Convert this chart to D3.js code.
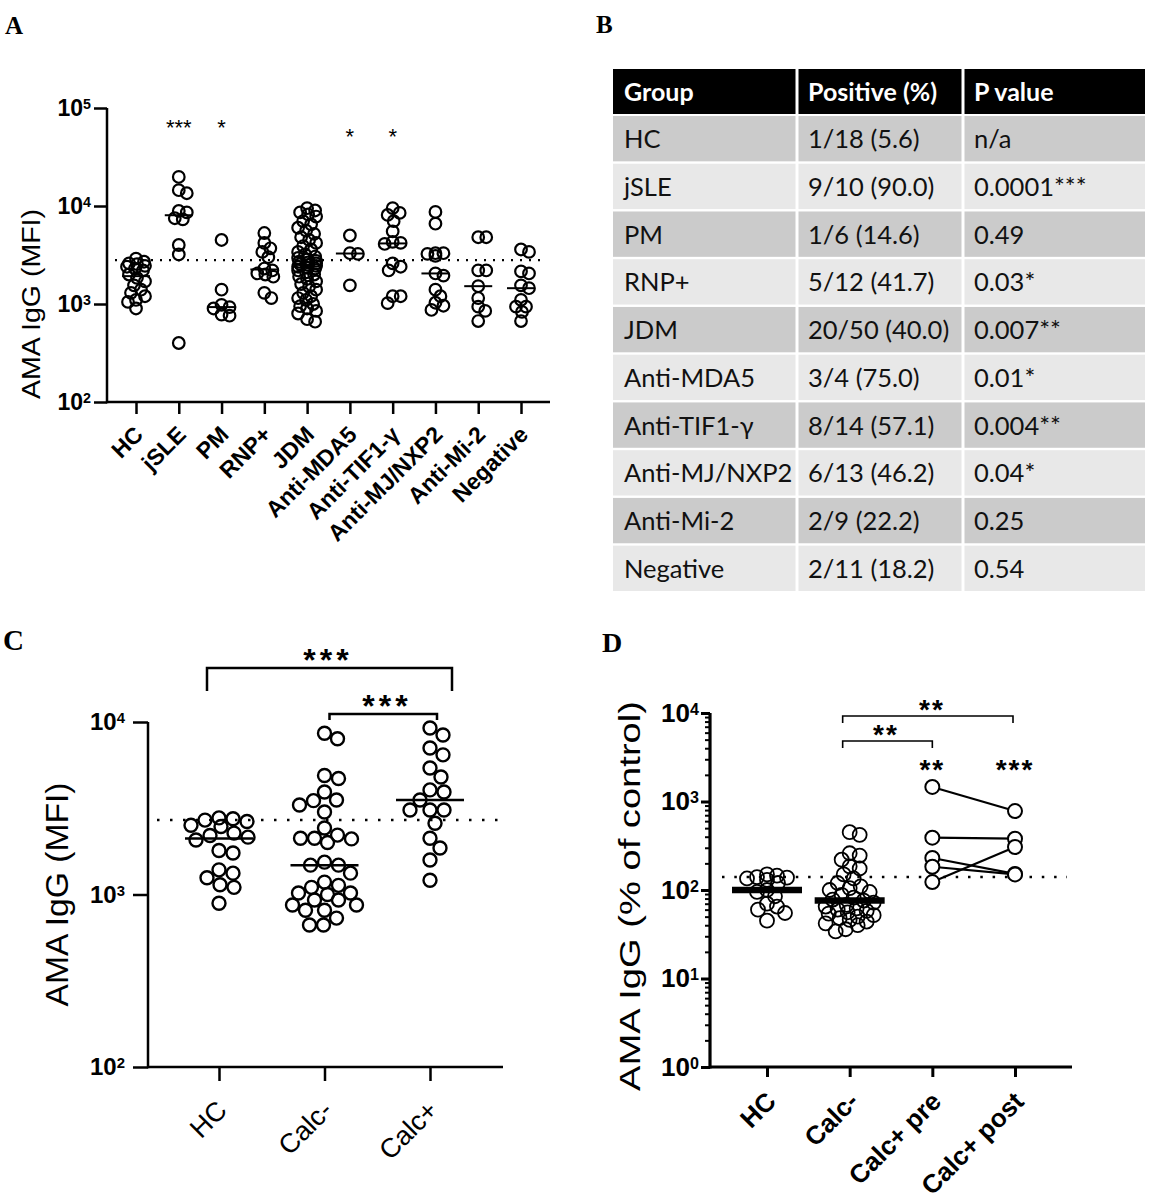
<!DOCTYPE html>
<html>
<head>
<meta charset="utf-8">
<script src="https://cdn.jsdelivr.net/npm/d3@7"></script>
<style>
  body { margin: 0; background: #fff; }
  svg { display: block; }
</style>
</head>
<body>
<svg id="fig" width="1152" height="1200"></svg>
<script>
// ---- panel A data (MFI) ----
const groupsA = ["HC", "jSLE", "PM", "RNP+", "JDM", "Anti-MDA5", "Anti-TIF1-γ", "Anti-MJ/NXP2", "Anti-Mi-2", "Negative"];
const hcA = [2900, 2700, 2600, 2550, 2450, 2400, 2300, 2200, 2000, 1850, 1700, 1550, 1400, 1300, 1200, 1100, 1050, 900];
const jsleA = [19800, 14500, 13500, 8900, 8600, 7500, 7300, 4000, 3200, 400];
const pmA = [4500, 1400, 980, 930, 900, 780, 760];
const rnpA = [5300, 4200, 3700, 3400, 3000, 2300, 2200, 2050, 2000, 1900, 1300, 1150];
const jdmA = [9500, 9000, 8600, 8200, 7800, 7000, 6500, 6000, 5600, 5200, 4800, 4500, 4200, 3900, 3600, 3400, 3200, 3050, 2950, 2850,
  2750, 2700, 2650, 2600, 2550, 2500, 2450, 2400, 2350, 2300, 2200, 2100, 2000, 1900, 1800, 1700, 1600, 1500, 1400, 1300,
  1200, 1150, 1100, 1000, 950, 900, 850, 800, 700, 660];
const mda5A = [5000, 3300, 3250, 1550];
const tif1A = [9500, 8500, 8100, 7000, 5500, 4300, 4200, 4100, 2600, 2400, 2200, 1200, 1200, 1020];
const mjA = [8700, 6600, 3300, 3300, 3250, 3100, 2050, 1950, 1400, 1200, 1030, 960, 870];
const mi2A = [4800, 4800, 2200, 2200, 1520, 1150, 940, 850, 670];
const negA = [3600, 3400, 2150, 2050, 1550, 1450, 1100, 940, 940, 830, 670];
const valuesA = [hcA, jsleA, pmA, rnpA, jdmA, mda5A, tif1A, mjA, mi2A, negA];
const starsA = ["", "***", "*", "", "", "*", "*", "", "", ""];
const cutoffA = 2810;

// ---- panel B table ----
const tableHeader = ["Group", "Positive (%)", "P value"];
const tableGroups = ["HC", "jSLE", "PM", "RNP+", "JDM", "Anti-MDA5", "Anti-TIF1-γ", "Anti-MJ/NXP2", "Anti-Mi-2", "Negative"];
const tablePositive = ["1/18 (5.6)", "9/10 (90.0)", "1/6 (14.6)", "5/12 (41.7)", "20/50 (40.0)", "3/4 (75.0)", "8/14 (57.1)", "6/13 (46.2)", "2/9 (22.2)", "2/11 (18.2)"];
const tablePValue = ["n/a", "0.0001***", "0.49", "0.03*", "0.007**", "0.01*", "0.004**", "0.04*", "0.25", "0.54"];

// ---- panel C data (MFI) ----
const groupsC = ["HC", "Calc-", "Calc+"];
const hcC = [2780, 2750, 2700, 2650, 2520, 2480, 2270, 2200, 2150, 2070, 1800, 1740, 1390, 1330, 1250, 1140, 1100, 890];
const calcNegC = [8600, 8000, 4900, 4700, 3930, 3530, 3500, 3300, 3010, 2430, 2210, 2120, 2120, 2100, 2000, 1540, 1480, 1480,
  1330, 1180, 1130, 1100, 1020, 1020, 1000, 930, 930, 870, 870, 810, 810, 730, 665, 665];
const calcPosC = [9230, 5410, 3930, 3090, 1860, 8410, 6450, 4040, 3530, 3090, 2590, 7070, 4800, 3090, 2120, 1585, 1210];
const valuesC = [hcC, calcNegC, calcPosC];
const cutoffC = 2700;

// ---- panel D data (% of control) ----
const groupsD = ["HC", "Calc-", "Calc+ pre", "Calc+ post"];
const hcD = [150, 145, 140, 138, 135, 130, 120, 100, 95, 85, 70, 65, 60, 55, 45];
const calcNegD = [450, 420, 260, 245, 220, 185, 175, 150, 135, 120, 110, 105, 100, 95, 88, 82, 78, 76, 72, 68, 65, 62,
  60, 58, 56, 54, 52, 50, 48, 46, 44, 42, 40, 36, 34];
const calcPre = [1460, 390, 230, 183, 123];
const calcPost = [780, 380, 152, 150, 306];
const cutoffD = 140;

const font = "'Liberation Sans', Arial, sans-serif";
const svg = d3.select("#fig").style("font-family", font);

// simple beeswarm: place points top-down, nearest free offset to the centre
function swarm(vals, y, cx, diam, maxW) {
  const pts = vals.map(v => ({ v, y: y(v) })).sort((a, b) => a.y - b.y);
  const placed = [];
  pts.forEach(p => {
    let best = 0, bestCost = Infinity;
    for (let k = 0; k <= maxW * 2; k++) {
      const off = (k % 2 ? 1 : -1) * Math.ceil(k / 2);
      if (Math.abs(off) > maxW) break;
      let cost = 0;
      placed.forEach(q => {
        const d = Math.hypot(q.x - (cx + off), q.y - p.y);
        if (d < diam) cost += diam - d;
      });
      if (cost === 0) { best = off; bestCost = 0; break; }
      if (cost + Math.abs(off) * 0.05 < bestCost) { bestCost = cost + Math.abs(off) * 0.05; best = off; }
    }
    p.x = cx + best;
    placed.push(p);
  });
  return placed;
}

function logLabels(g, supSize) {
  g.selectAll(".tick text").each(function (d) {
    const t = d3.select(this);
    t.text("10");
    t.append("tspan").attr("font-size", supSize).attr("dy", "-0.45em").text(Math.round(Math.log10(d)));
  });
}

function panelLetter(x, y, s, txt) {
  svg.append("text").attr("x", x).attr("y", y).attr("font-family", "'Liberation Serif', 'Times New Roman', serif")
    .attr("font-weight", "bold").attr("font-size", s).text(txt);
}

// ================= Panel A =================
{
  const g = svg.append("g");
  const y = d3.scaleLog().domain([100, 1e5]).range([402, 108]);
  const x = d3.scalePoint().domain(groupsA).range([136, 521]);

  const ya = g.append("g").attr("transform", "translate(107,0)")
    .call(d3.axisLeft(y).tickValues([1e2, 1e3, 1e4, 1e5]).tickSize(13).tickPadding(3).tickSizeOuter(0));
  ya.select(".domain").remove();
  ya.selectAll("line").attr("stroke-width", 2.5);
  ya.selectAll("text").attr("font-size", 23).attr("font-weight", "bold").attr("font-family", font);
  logLabels(ya, "62%");

  const xa = g.append("g").attr("transform", "translate(0,402)")
    .call(d3.axisBottom(x).tickSize(12).tickSizeOuter(0));
  xa.select(".domain").remove();
  xa.selectAll("line").attr("stroke-width", 2.5);
  xa.selectAll("text").attr("font-size", 23).attr("font-weight", "bold").attr("font-family", font)
    .attr("x", 0).attr("y", 0).attr("dy", 0).attr("text-anchor", "end")
    .attr("transform", "translate(8,34) rotate(-45)");

  g.append("line").attr("x1", 107).attr("x2", 107).attr("y1", y(1e5)).attr("y2", y(100) + 1.2)
    .attr("stroke", "#000").attr("stroke-width", 2.5);
  g.append("line").attr("x1", 107).attr("x2", 550).attr("y1", y(100)).attr("y2", y(100))
    .attr("stroke", "#000").attr("stroke-width", 2.5);

  g.append("line").attr("x1", 115).attr("x2", 543).attr("y1", y(cutoffA)).attr("y2", y(cutoffA))
    .attr("stroke", "#000").attr("stroke-width", 2.2).attr("stroke-dasharray", "2,7");

  valuesA.forEach((vals, i) => {
    const cx = x(groupsA[i]);
    const pts = swarm(vals, y, cx, 8, 9);
    g.append("g").selectAll("circle").data(pts).join("circle")
      .attr("cx", d => d.x).attr("cy", d => d.y).attr("r", 5.8)
      .attr("fill", "none").attr("stroke", "#000").attr("stroke-width", 2.2);
    const m = d3.median(vals);
    g.append("line").attr("x1", cx - 14).attr("x2", cx + 14).attr("y1", y(m)).attr("y2", y(m))
      .attr("stroke", "#000").attr("stroke-width", 2);
    if (starsA[i]) {
      g.append("text").attr("x", cx).attr("y", i >= 5 ? 144 : 135).attr("text-anchor", "middle")
        .attr("font-size", 22).text(starsA[i]);
    }
  });

  g.append("text").attr("transform", `translate(40,${y(Math.sqrt(1e2 * 1e5 / 10))}) rotate(-90)`)
    .attr("text-anchor", "middle").attr("font-size", 26).attr("textLength", 190).attr("lengthAdjust", "spacingAndGlyphs")
    .text("AMA IgG (MFI)");
  panelLetter(5, 34, 25, "A");
}

// ================= Panel B (table) =================
{
  const g = svg.append("g");
  const cols = [613, 797, 963, 1145];
  const rows = d3.scaleBand().domain(tableGroups).range([116, 591]).paddingInner(0.05).paddingOuter(0);
  const tf = "Lato, 'Open Sans', sans-serif";

  tableHeader.forEach((h, c) => {
    g.append("rect").attr("x", cols[c] + (c ? 1.5 : 0)).attr("y", 69).attr("width", cols[c + 1] - cols[c] - (c ? 1.5 : 0) - (c < 2 ? 1.5 : 0))
      .attr("height", 45).attr("fill", "#000");
    g.append("text").attr("x", cols[c] + 11).attr("y", 101).attr("fill", "#fff").attr("font-family", tf)
      .attr("font-weight", "bold").attr("font-size", 25).text(h);
  });

  const cellTexts = [tableGroups, tablePositive, tablePValue];
  tableGroups.forEach((grp, r) => {
    const fill = r % 2 === 0 ? "#cbcbcb" : "#e8e8e8";
    for (let c = 0; c < 3; c++) {
      g.append("rect").attr("x", cols[c] + (c ? 1.5 : 0)).attr("y", rows(grp))
        .attr("width", cols[c + 1] - cols[c] - (c ? 1.5 : 0) - (c < 2 ? 1.5 : 0))
        .attr("height", rows.bandwidth()).attr("fill", fill);
      g.append("text").attr("x", cols[c] + 11).attr("y", rows(grp) + rows.bandwidth() / 2 + 9.5)
        .attr("font-family", tf).attr("font-size", 25.5).attr("fill", "#111").text(cellTexts[c][r]);
    }
  });
  panelLetter(596, 33, 25, "B");
}

// ================= Panel C =================
{
  const g = svg.append("g");
  const y = d3.scaleLog().domain([100, 1e4]).range([1067, 722]);
  const x = d3.scalePoint().domain(groupsC).range([219, 430]);

  const ya = g.append("g").attr("transform", "translate(148,0)")
    .call(d3.axisLeft(y).tickValues([1e2, 1e3, 1e4]).tickSize(15).tickPadding(8).tickSizeOuter(0));
  ya.select(".domain").remove();
  ya.selectAll("line").attr("stroke-width", 2.5);
  ya.selectAll("text").attr("font-size", 24).attr("font-weight", "bold").attr("font-family", font);
  logLabels(ya, "62%");

  const xa = g.append("g").attr("transform", "translate(0,1067)")
    .call(d3.axisBottom(x).tickSize(14).tickSizeOuter(0));
  xa.select(".domain").remove();
  xa.selectAll("line").attr("stroke-width", 2.5);
  xa.selectAll("text").attr("font-size", 27).attr("font-family", font)
    .attr("x", 0).attr("y", 0).attr("dy", 0).attr("text-anchor", "end")
    .attr("transform", "translate(9,45) rotate(-45)");

  g.append("line").attr("x1", 148).attr("x2", 148).attr("y1", y(1e4)).attr("y2", y(100) + 1.2)
    .attr("stroke", "#000").attr("stroke-width", 2.5);
  g.append("line").attr("x1", 148).attr("x2", 503).attr("y1", y(100)).attr("y2", y(100))
    .attr("stroke", "#000").attr("stroke-width", 2.5);

  g.append("line").attr("x1", 157).attr("x2", 503).attr("y1", y(cutoffC)).attr("y2", y(cutoffC))
    .attr("stroke", "#000").attr("stroke-width", 2.5).attr("stroke-dasharray", "2.5,10.5");

  valuesC.forEach((vals, i) => {
    const cx = x(groupsC[i]);
    const pts = swarm(vals, y, cx, 14, 32);
    g.append("g").selectAll("circle").data(pts).join("circle")
      .attr("cx", d => d.x).attr("cy", d => d.y).attr("r", 6.5)
      .attr("fill", "none").attr("stroke", "#000").attr("stroke-width", 2.4);
    const m = d3.median(vals);
    g.append("line").attr("x1", cx - 34).attr("x2", cx + 34).attr("y1", y(m)).attr("y2", y(m))
      .attr("stroke", "#000").attr("stroke-width", 2.5);
  });

  // comparison brackets
  const top = y(1e4);
  const br = [
    { x1: x("HC") - 12, x2: x("Calc+") + 22, yb: top - 54, leg: 23, sx: 328, label: "***" },
    { x1: x("Calc-") + 5, x2: x("Calc+") + 7, yb: top - 8, leg: 6, sx: 387, label: "***" }
  ];
  br.forEach(b => {
    g.append("path").attr("d", `M${b.x1},${b.yb + b.leg}V${b.yb}H${b.x2}V${b.yb + b.leg}`)
      .attr("fill", "none").attr("stroke", "#000").attr("stroke-width", 2.5);
    g.append("text").attr("x", b.sx).attr("y", b.yb + 3).attr("text-anchor", "middle")
      .attr("font-size", 32).attr("font-weight", "bold").attr("letter-spacing", 4).text(b.label);
  });

  g.append("text").attr("transform", `translate(68,${y(1000)}) rotate(-90)`)
    .attr("text-anchor", "middle").attr("font-size", 31).attr("textLength", 224).attr("lengthAdjust", "spacingAndGlyphs")
    .text("AMA IgG (MFI)");
  panelLetter(3, 650, 29, "C");
}

// ================= Panel D =================
{
  const g = svg.append("g");
  const y = d3.scaleLog().domain([1, 1e4]).range([1067, 713]);
  const x = d3.scalePoint().domain(groupsD).range([767, 1015]);

  const minor = [];
  for (let e = 0; e < 4; e++) for (let k = 2; k <= 9; k++) minor.push(k * Math.pow(10, e));
  const ym = g.append("g").attr("transform", "translate(710,0)")
    .call(d3.axisLeft(y).tickValues(minor).tickSize(5).tickFormat("").tickSizeOuter(0));
  ym.select(".domain").remove();
  ym.selectAll("line").attr("stroke-width", 2);

  const ya = g.append("g").attr("transform", "translate(710,0)")
    .call(d3.axisLeft(y).tickValues([1, 10, 100, 1e3, 1e4]).tickSize(9).tickPadding(2).tickSizeOuter(0));
  ya.select(".domain").remove();
  ya.selectAll("line").attr("stroke-width", 3);
  ya.selectAll("text").attr("font-size", 26).attr("font-weight", "bold").attr("font-family", font);
  logLabels(ya, "62%");

  const xa = g.append("g").attr("transform", "translate(0,1067)")
    .call(d3.axisBottom(x).tickSize(10).tickSizeOuter(0));
  xa.select(".domain").remove();
  xa.selectAll("line").attr("stroke-width", 3);
  xa.selectAll("text").attr("font-size", 26).attr("font-weight", "bold").attr("font-family", font)
    .attr("x", 0).attr("y", 0).attr("dy", 0).attr("text-anchor", "end")
    .attr("transform", "translate(10,36) rotate(-45)");

  g.append("line").attr("x1", 710).attr("x2", 710).attr("y1", y(1e4)).attr("y2", y(1) + 1.5)
    .attr("stroke", "#000").attr("stroke-width", 3.2);
  g.append("line").attr("x1", 710).attr("x2", 1072).attr("y1", y(1)).attr("y2", y(1))
    .attr("stroke", "#000").attr("stroke-width", 3.2);

  g.append("line").attr("x1", 722).attr("x2", 1067).attr("y1", y(cutoffD)).attr("y2", y(cutoffD))
    .attr("stroke", "#000").attr("stroke-width", 2.6).attr("stroke-dasharray", "2.5,9.8");

  [[hcD, "HC"], [calcNegD, "Calc-"]].forEach(([vals, name]) => {
    const cx = x(name);
    const pts = swarm(vals, y, cx, 10, 24);
    g.append("g").selectAll("circle").data(pts).join("circle")
      .attr("cx", d => d.x).attr("cy", d => d.y).attr("r", 7)
      .attr("fill", "none").attr("stroke", "#000").attr("stroke-width", 1.8);
    const m = d3.median(vals);
    g.append("line").attr("x1", cx - 35).attr("x2", cx + 35).attr("y1", y(m)).attr("y2", y(m))
      .attr("stroke", "#000").attr("stroke-width", 6.5);
  });

  // paired pre/post
  const pairs = calcPre.map((v, i) => [v, calcPost[i]]);
  g.append("g").selectAll("line").data(pairs).join("line")
    .attr("x1", x("Calc+ pre")).attr("x2", x("Calc+ post"))
    .attr("y1", d => y(d[0])).attr("y2", d => y(d[1]))
    .attr("stroke", "#000").attr("stroke-width", 2.2);
  [[calcPre, "Calc+ pre"], [calcPost, "Calc+ post"]].forEach(([vals, name]) => {
    g.append("g").selectAll("circle").data(vals).join("circle")
      .attr("cx", x(name)).attr("cy", d => y(d)).attr("r", 7)
      .attr("fill", "#fff").attr("stroke", "#000").attr("stroke-width", 2);
  });

  const top = y(1e4);
  const br = [
    { x1: x("Calc-") - 7, x2: x("Calc+ post") - 2, yb: top + 3, leg: 7, sx: 932, label: "**" },
    { x1: x("Calc-") - 7, x2: x("Calc+ pre"), yb: top + 28, leg: 7, sx: 886, label: "**" }
  ];
  br.forEach(b => {
    g.append("path").attr("d", `M${b.x1},${b.yb + b.leg}V${b.yb}H${b.x2}V${b.yb + b.leg}`)
      .attr("fill", "none").attr("stroke", "#000").attr("stroke-width", 1.6);
    g.append("text").attr("x", b.sx).attr("y", b.yb + 3).attr("text-anchor", "middle")
      .attr("font-size", 28).attr("font-weight", "bold").attr("letter-spacing", 2).text(b.label);
  });
  [["**", "Calc+ pre"], ["***", "Calc+ post"]].forEach(([s, name]) => {
    g.append("text").attr("x", x(name)).attr("y", top + 66).attr("text-anchor", "middle")
      .attr("font-size", 28).attr("font-weight", "bold").attr("letter-spacing", 2).text(s);
  });

  g.append("text").attr("transform", `translate(640,${(y(1e4) + y(1)) / 2 + 6}) rotate(-90)`)
    .attr("text-anchor", "middle").attr("font-size", 30).attr("textLength", 390).attr("lengthAdjust", "spacingAndGlyphs")
    .text("AMA IgG (% of control)");
  panelLetter(602, 652, 28, "D");
}
</script>
</body>
</html>
